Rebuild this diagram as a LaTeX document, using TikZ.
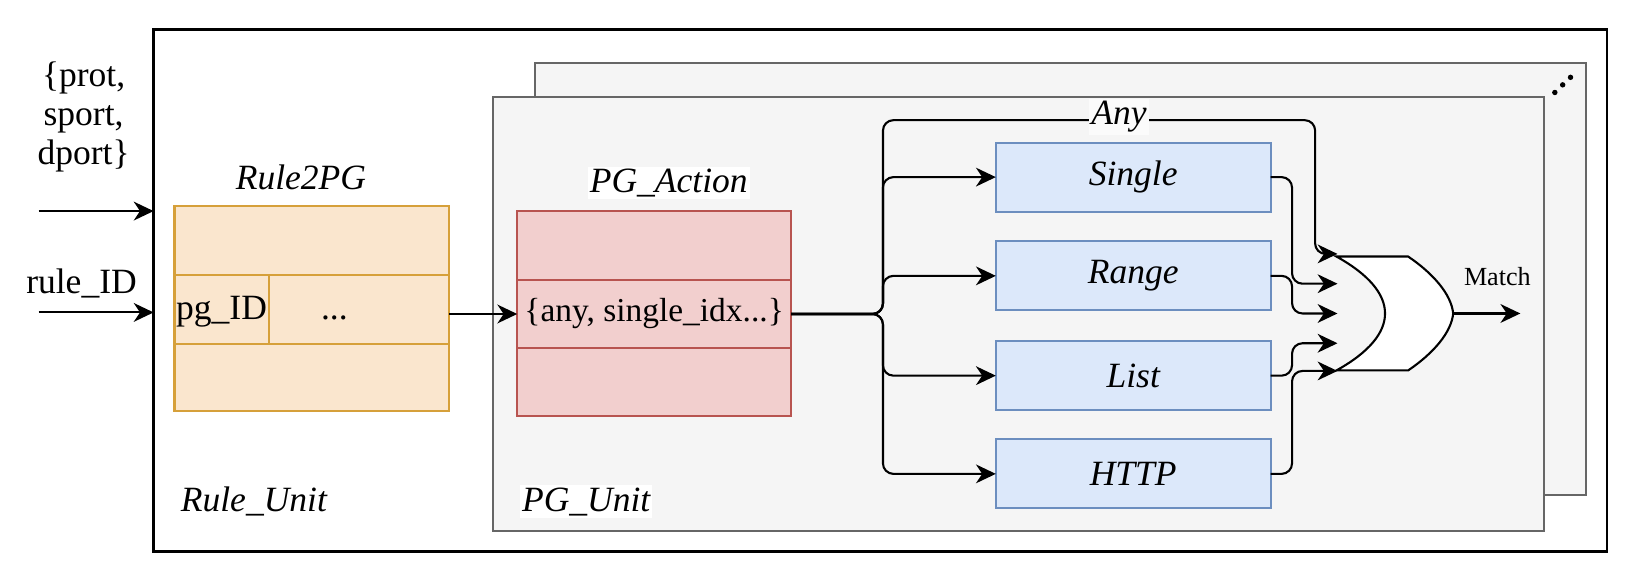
\documentclass[tikz,border=0pt]{standalone}
\usepackage{fontspec}
\setmainfont{Liberation Serif}
\usetikzlibrary{arrows.meta}
\definecolor{orfill}{HTML}{FAE6CE}
\definecolor{ordraw}{HTML}{D6A03A}
\definecolor{rdfill}{HTML}{F2CFCE}
\definecolor{rddraw}{HTML}{B85450}
\definecolor{blfill}{HTML}{DCE8FA}
\definecolor{bldraw}{HTML}{6C8EBF}
\definecolor{gyfill}{HTML}{F5F5F5}
\definecolor{gydraw}{HTML}{666666}
\tikzset{
  fnt/.style={font=\fontsize{17}{18.5}\selectfont},
  ifnt/.style={font=\fontsize{17}{18.5}\selectfont\itshape},
  unitbox/.style={draw=gydraw, fill=gyfill, line width=1pt, inner sep=0pt, outer sep=0pt},
  ocell/.style={draw=ordraw, fill=orfill, line width=1pt, inner sep=0pt, outer sep=0pt},
  rcell/.style={draw=rddraw, fill=rdfill, line width=1pt, inner sep=0pt, outer sep=0pt},
  bbox/.style={draw=bldraw, fill=blfill, line width=1pt, inner sep=0pt, outer sep=0pt,
               minimum width=131.5pt, minimum height=33pt, ifnt},
  conn/.style={line width=1pt, rounded corners=5pt,
               -{Stealth[length=9.5pt,width=9pt,inset=3pt]}},
  lbl/.style={fill=white, inner sep=1pt},
  moredot/.style={fill=black, draw=none},
}
\begin{document}
\begin{tikzpicture}[x=0.5pt,y=-0.5pt]
\useasboundingbox (0,0) rectangle (1567.6,551.2);

% outer Rule_Unit box
\node[draw, line width=1.2pt, inner sep=0pt, outer sep=0pt,
      minimum width=695.5pt, minimum height=250pt] (ruleunit) at (842.5,278) {};

% PG units (back and front)
\node[unitbox, minimum width=503pt, minimum height=207pt] (pgback) at (1015,267) {};
\node[unitbox, minimum width=503pt, minimum height=207.5pt] (pgunit) at (975,300.5) {};
\fill[moredot] (1488,88.5) circle (1.3pt);
\fill[moredot] (1495.5,81.2) circle (1.3pt);
\fill[moredot] (1503,74) circle (1.3pt);

% inputs
\node[fnt, align=center] (hdr) at (80,112) {\{prot,\\sport,\\dport\}};
\node[fnt] (ruleid) at (78,271) {rule\_ID};
\coordinate (in1) at (37,202);
\coordinate (in2) at (37,299);
\draw[conn] (in1) -- (in1 -| ruleunit.west);
\draw[conn] (in2) -- (in2 -| ruleunit.west);

% Rule2PG table
\node[ifnt, lbl] (r2ptitle) at (288,170) {Rule2PG};
\node[ocell, minimum width=131.5pt, minimum height=33pt] (r2pT) at (298.5,230.5) {};
\node[ocell, minimum width=45pt, minimum height=33pt] (r2pL) at (212,296.5) {};
\node[ocell, minimum width=86.5pt, minimum height=33pt] (r2pR) at (343.5,296.5) {};
\node[ocell, minimum width=131.5pt, minimum height=32pt] (r2pB) at (298.5,361) {};
\node[fnt, anchor=base] (pgid) at (212,306) {pg\_ID};
\node[fnt, anchor=base] (dots) at (320,306) {...};

% PG_Action table
\node[ifnt, lbl] (pgatitle) at (640,175) {PG\_Action};
\node[rcell, minimum width=131pt, minimum height=33pt] (pgaT) at (626,235) {};
\node[rcell, minimum width=131pt, minimum height=32.5pt] (pgaM) at (626,300.5) {};
\node[rcell, minimum width=131pt, minimum height=32.5pt] (pgaB) at (626,365.5) {};
\node[font=\fontsize{16}{18}\selectfont, inner sep=0pt] (pgatext) at (626,300.5) {\{any, single\_idx...\}};

\draw[conn] (r2pR.east |- pgaM.west) -- (pgaM.west);

% matcher boxes
\node[bbox] (single) at (1084.5,169.5) {Single};
\node[bbox] (range)  at (1084.5,264) {Range};
\node[bbox] (list)   at (1084.5,359.5) {List};
\node[bbox] (http)   at (1084.5,453.5) {HTTP};

% OR gate
\coordinate (g1) at (1280,243);
\coordinate (g2) at (1280,271.5);
\coordinate (g3) at (1280,300);
\coordinate (g4) at (1280,328.5);
\coordinate (g5) at (1280,355);
\coordinate (gout) at (1390.7,300);
\coordinate (mout) at (1455,300);
\draw[line width=1pt, fill=white]
  (1279,245.5) -- (1347.6,245.5)
  .. controls (1372,262) and (1389,282) .. (gout)
  .. controls (1389,318) and (1372,338) .. (1347.6,354.5)
  -- (1279,354.5)
  .. controls (1341,320) and (1341,280) .. cycle;
\draw[conn] (gout) -- (mout);
\node[font=\fontsize{12.5}{14}\selectfont] (match) at (1433,265) {Match};

% fork from PG_Action
\coordinate (fork) at (845,300.5);
\coordinate (anyc) at (1258.6,115);
\draw[conn] (pgaM.east) -- (fork) |- (anyc) |- (g1);
\draw[conn] (pgaM.east) -- (fork) |- (single.west);
\draw[conn] (pgaM.east) -- (fork) |- (range.west);
\draw[conn] (pgaM.east) -- (fork) |- (list.west);
\draw[conn] (pgaM.east) -- (fork) |- (http.west);
\node[ifnt, fill=white!60!gyfill, inner sep=1pt] (anylbl) at (1071,112) {Any};

% outputs of matchers
\coordinate (jx) at (1236.5,0);
\draw[conn] (single.east) -- (single.east -| jx) |- (g2);
\draw[conn] (range.east) -- (range.east -| jx) |- (g3);
\draw[conn] (list.east) -- (list.east -| jx) |- (g4);
\draw[conn] (http.east) -- (http.east -| jx) |- (g5);

% unit labels
\node[ifnt, lbl] (ruleunitlbl) at (243,480) {Rule\_Unit};
\node[ifnt, lbl] (pgunitlbl) at (561,480) {PG\_Unit};
\end{tikzpicture}
\end{document}
